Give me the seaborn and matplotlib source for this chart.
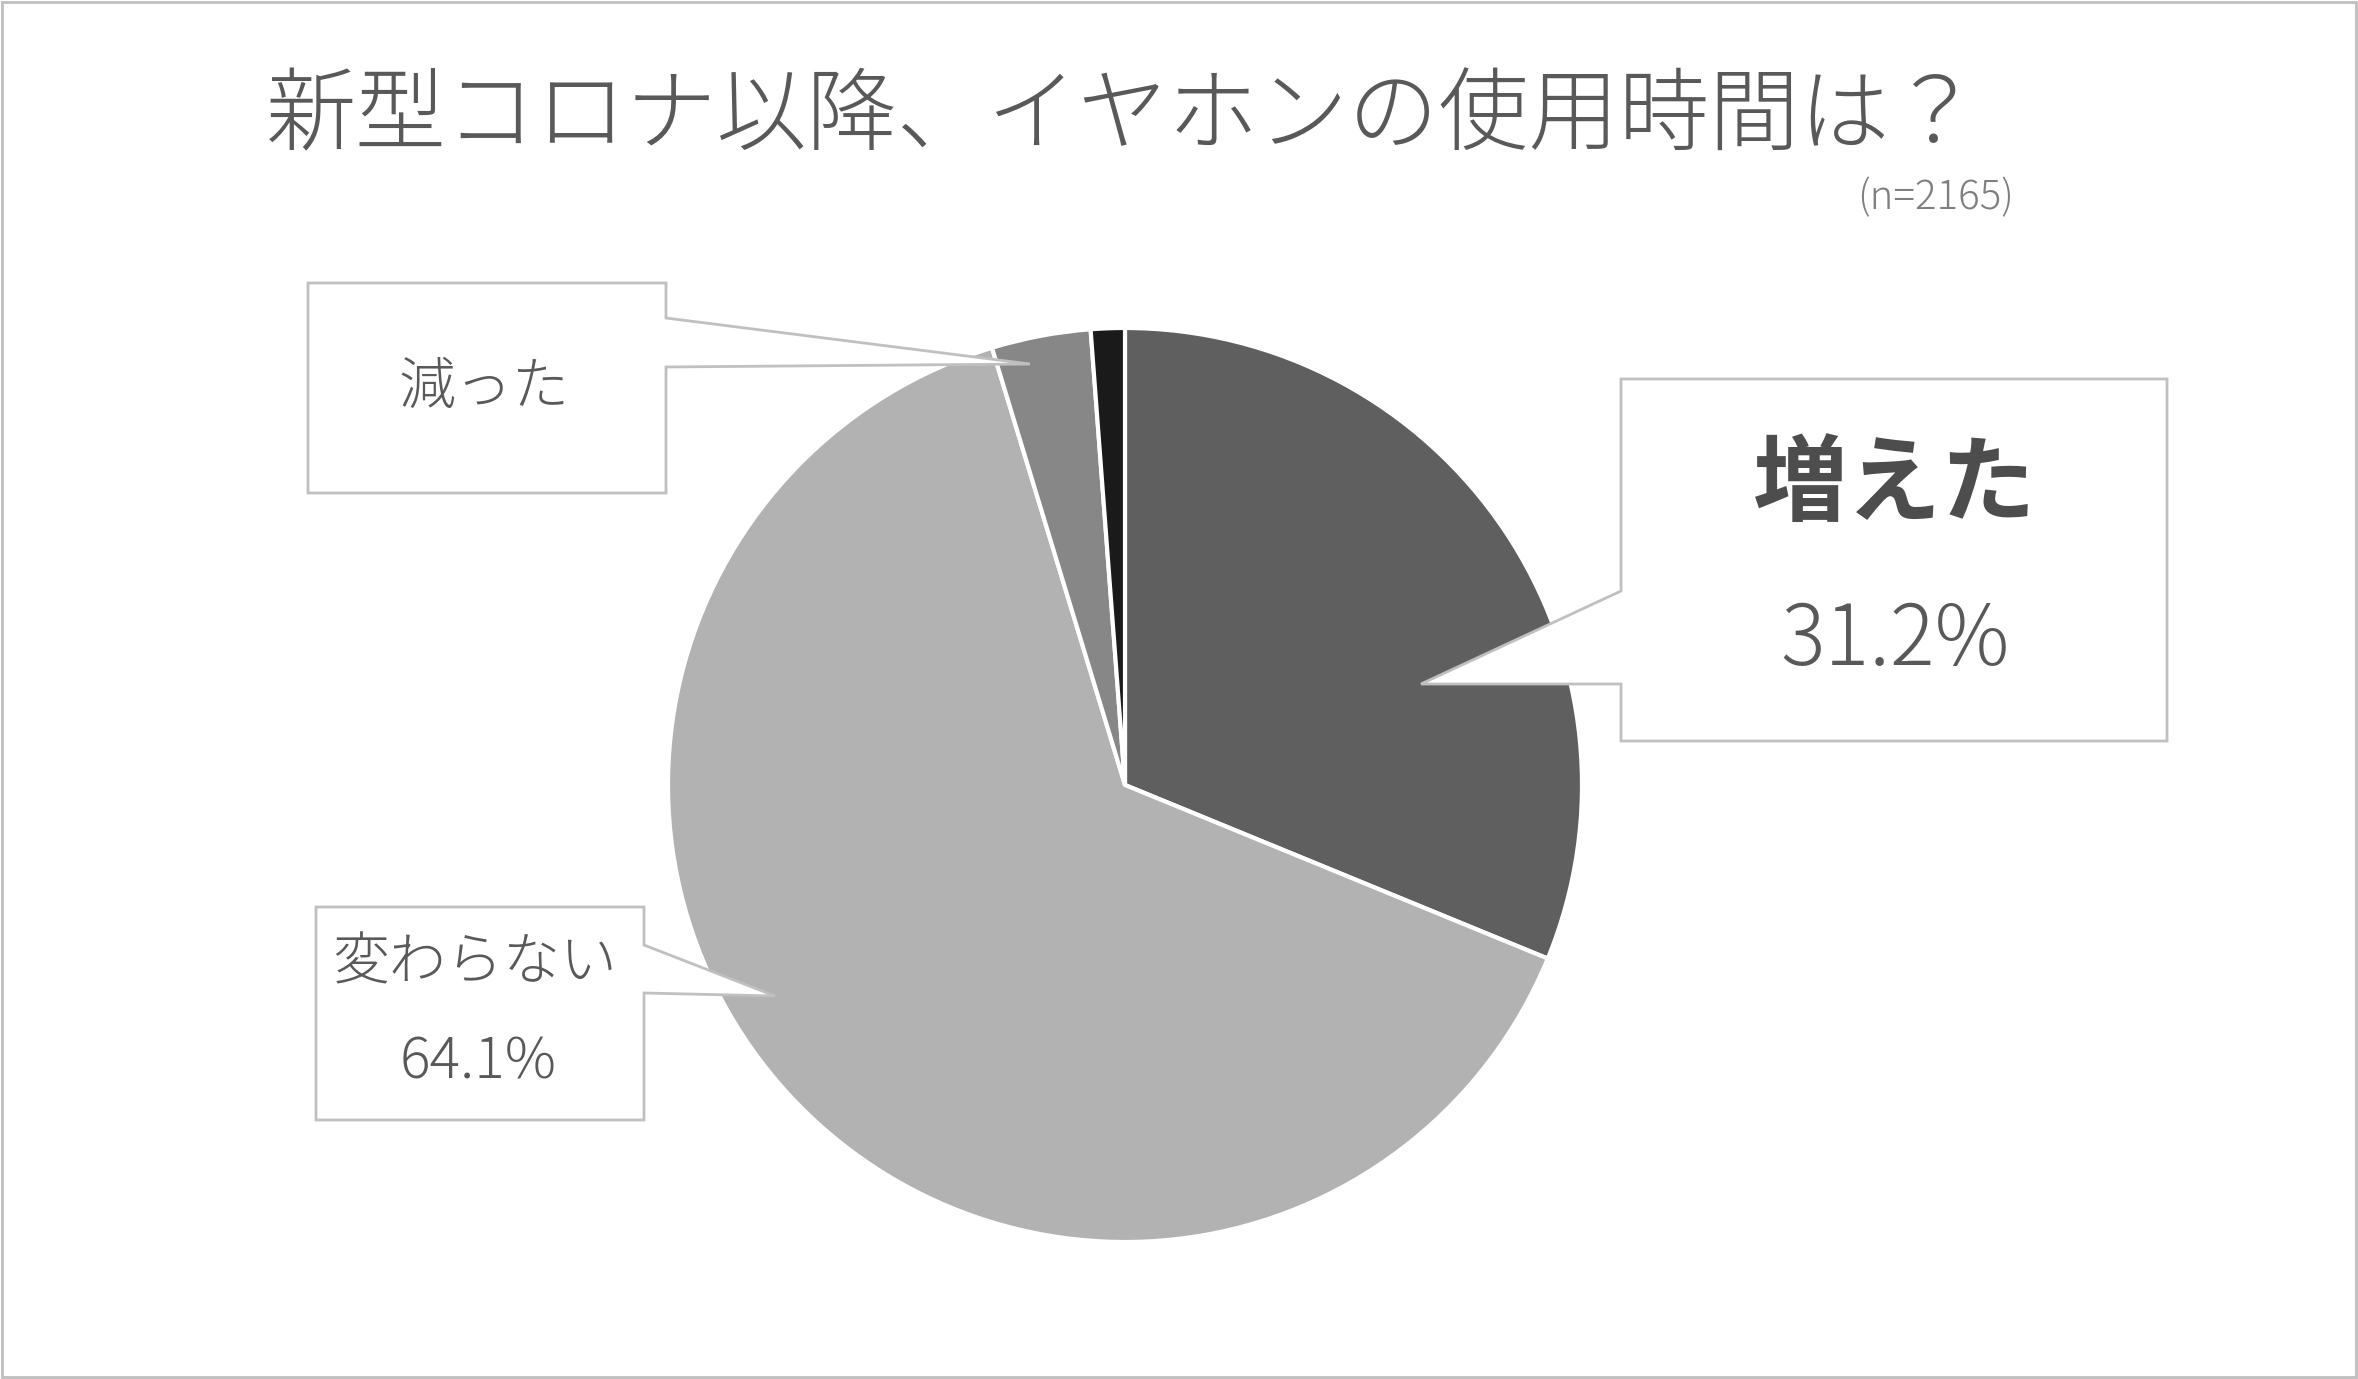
import matplotlib
matplotlib.use("Agg")
import matplotlib.pyplot as plt
import seaborn as sns
import numpy as np
from matplotlib.patches import Polygon, Rectangle

# データ
labels = ["増えた", "変わらない", "減った", "その他"]
shares = [31.2, 64.1, 3.5, 1.2]
colors = ["#5f5f5f", "#b2b2b2", "#878787", "#1a1a1a"]
title = "新型コロナ以降、イヤホンの使用時間は？"
n_note = "(n=2165)"

sns.set_theme(style="white")
plt.rcParams['font.family'] = ['Noto Sans CJK JP', 'DejaVu Sans']

W, H = 2358, 1379
fig = plt.figure(figsize=(W / 100, H / 100), dpi=100)
fig.patch.set_facecolor("white")

# 円グラフ（中心 1125,785 px / 半径 457 px）
cx, cy, R = 1125, 785, 457
ax = fig.add_axes([(cx - R) / W, (H - cy - R) / H, 2 * R / W, 2 * R / H])
ax.pie(shares, colors=colors, startangle=90, counterclock=False, radius=1,
       wedgeprops=dict(edgecolor="white", linewidth=3))
ax.set_xlim(-1, 1)
ax.set_ylim(-1, 1)
ax.set_aspect("equal")
ax.axis("off")

# 注釈用のオーバーレイ（ピクセル座標）
ov = fig.add_axes([0, 0, 1, 1], facecolor="none")
ov.set_xlim(0, W)
ov.set_ylim(H, 0)
ov.axis("off")

edge = "#c0c0c0"
txt = "#595959"


def callout(x0, y0, x1, y1, side, p0, p1, tip):
    # 吹き出し: 矩形 + 指定辺からの三角形
    if side == "right":
        pts = [(x0, y0), (x1, y0), (x1, p0), tip, (x1, p1), (x1, y1), (x0, y1)]
    else:
        pts = [(x0, y0), (x1, y0), (x1, y1), (x0, y1), (x0, p1), tip, (x0, p0)]
    ov.add_patch(Polygon(pts, closed=True, facecolor="white", edgecolor=edge,
                         linewidth=2, zorder=5))


callout(308, 283, 666, 493, "right", 318, 367, (1030, 364))
callout(1621, 379, 2167, 741, "left", 591, 684, (1421, 684))
callout(316, 907, 644, 1120, "right", 945, 993, (775, 996))

ov.text(484, 388, labels[2], ha="center", va="center", fontsize=41,
        color=txt, fontweight="light", zorder=6)
ov.text(1895, 486, labels[0], ha="center", va="center", fontsize=68,
        color="#4d4d4d", fontweight="bold", zorder=6)
ov.text(1895, 642, f"{shares[0]}%", ha="center", va="center", fontsize=60,
        color=txt, fontweight="light", zorder=6)
ov.text(475, 963, labels[1], ha="center", va="center", fontsize=41,
        color=txt, fontweight="light", zorder=6)
ov.text(478, 1062, f"{shares[1]}%", ha="center", va="center", fontsize=41,
        color=txt, fontweight="light", zorder=6)

# タイトル
ov.text(1123, 118, title, ha="center", va="center", fontsize=65,
        color=txt, fontweight="light")
ov.text(1936, 198, n_note, ha="center", va="center", fontsize=29,
        color="#7f7f7f", fontweight="light")

# 外枠
ov.add_patch(Rectangle((2, 2), W - 4, H - 4, fill=False, edgecolor="#bfbfbf",
                       linewidth=2, zorder=10))

fig.savefig("out.png", dpi=100, facecolor="white")
